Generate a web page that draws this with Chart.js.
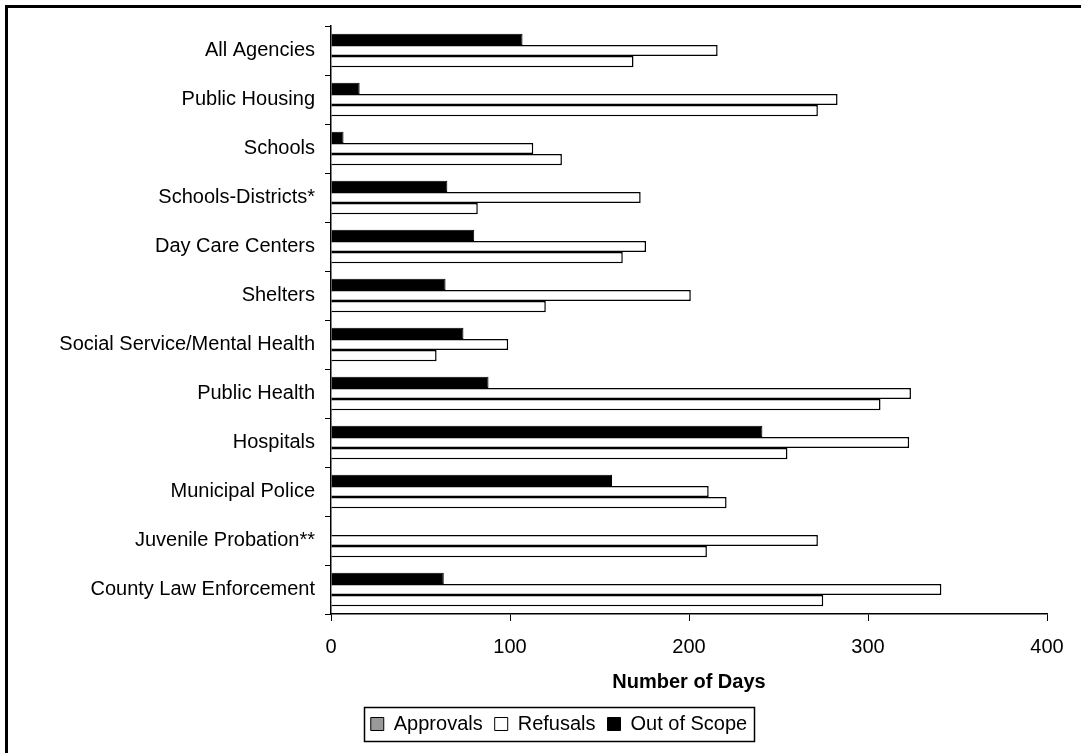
<!DOCTYPE html>
<html>
<head>
<meta charset="utf-8">
<script src="https://cdn.jsdelivr.net/npm/chart.js@4/dist/chart.umd.min.js"></script>
<style>
  html, body { margin: 0; padding: 0; background: #fff; }
  #wrap { width: 1081px; height: 753px; position: relative; }
</style>
</head>
<body>
<div id="wrap"><canvas id="chart"></canvas></div>
<script>
// categories, top to bottom
const agencies = [
    'All Agencies',
    'Public Housing',
    'Schools',
    'Schools-Districts*',
    'Day Care Centers',
    'Shelters',
    'Social Service/Mental Health',
    'Public Health',
    'Hospitals',
    'Municipal Police',
    'Juvenile Probation**',
    'County Law Enforcement'
];

// days
const outOfScope = [107, 16, 7, 65, 80, 64, 74, 88, 241, 157, 0, 63];
const refusals   = [216, 283, 113, 173, 176, 201, 99, 324, 323, 211, 272, 341];
const approvals  = [169, 272, 129, 82, 163, 120, 59, 307, 255, 221, 210, 275];

const xTicks = [0, 100, 200, 300, 400];

Chart.defaults.font.family = '"Liberation Sans", Arial, sans-serif';
Chart.defaults.font.size = 20;
Chart.defaults.color = '#000';

// legend swatch colours (approvals swatch is grey in the original)
const legendFill = { 'Approvals': '#999999', 'Refusals': '#ffffff', 'Out of Scope': '#000000' };

const framePlugin = {
    id: 'frame',
    afterLayout(chart) {
        // the legend in the original sits a bit right of page centre
        const lg = chart.legend;
        const tops = lg.legendHitBoxes.map(b => b.top);
        lg.left = 71;
        lg.adjustHitBoxes();
        // adjustHitBoxes adds the offset to top again, put it back
        lg.legendHitBoxes.forEach((b, i) => { b.top = tops[i]; });
    },
    beforeDraw(chart) {
        const ctx = chart.ctx;
        ctx.save();
        ctx.fillStyle = '#fff';
        ctx.fillRect(0, 0, chart.width, chart.height);
        ctx.strokeStyle = '#000';
        ctx.lineWidth = 3;
        ctx.beginPath();
        ctx.moveTo(6.5, chart.height);
        ctx.lineTo(6.5, 6.5);
        ctx.lineTo(chart.width, 6.5);
        ctx.stroke();
        ctx.restore();
    },
    afterDraw(chart) {
        // box round the legend
        const boxes = chart.legend.legendHitBoxes;
        if (!boxes || !boxes.length) return;
        const left = Math.min(...boxes.map(b => b.left));
        const right = Math.max(...boxes.map(b => b.left + b.width));
        const mid = boxes[0].top + boxes[0].height / 2;
        const ctx = chart.ctx;
        ctx.save();
        ctx.strokeStyle = '#000';
        ctx.lineWidth = 1.5;
        ctx.strokeRect(Math.round(left - 7) + 0.5, Math.round(mid - 17) + 0.5,
            Math.round(right - left + 14), 34);
        ctx.restore();
    }
};

new Chart(document.getElementById('chart'), {
    type: 'bar',
    data: {
        labels: agencies,
        datasets: [
            {
                label: 'Out of Scope',
                data: outOfScope,
                backgroundColor: '#000',
                borderColor: '#000',
                borderWidth: 1
            },
            {
                label: 'Refusals',
                data: refusals,
                backgroundColor: '#fff',
                borderColor: '#000',
                borderWidth: 1.5
            },
            {
                label: 'Approvals',
                data: approvals,
                backgroundColor: '#fff',
                borderColor: '#000',
                borderWidth: 1.5
            }
        ]
    },
    options: {
        indexAxis: 'y',
        responsive: true,
        maintainAspectRatio: false,
        animation: false,
        layout: {
            padding: { top: 26, left: 10, right: 34, bottom: 9 }
        },
        datasets: {
            bar: {
                categoryPercentage: 0.68,
                barPercentage: 1.0,
                borderSkipped: 'start'
            }
        },
        scales: {
            x: {
                min: 0,
                max: 400,
                afterBuildTicks(scale) {
                    scale.ticks = xTicks.map(v => ({ value: v }));
                },
                grid: {
                    drawOnChartArea: false,
                    drawTicks: true,
                    tickLength: 7,
                    color: '#000'
                },
                border: { display: true, color: '#000', width: 1.5 },
                ticks: { padding: 14, color: '#000', font: { size: 20 } },
                title: {
                    display: true,
                    text: 'Number of Days',
                    color: '#000',
                    font: { size: 20, weight: 'bold' },
                    padding: { top: -3, bottom: 8 }
                }
            },
            y: {
                afterFit(scale) {
                    scale.width = 321;
                },
                grid: {
                    drawOnChartArea: false,
                    drawTicks: true,
                    tickLength: 6,
                    offset: true,
                    color: '#000'
                },
                border: { display: true, color: '#000', width: 1.5 },
                ticks: { padding: 10, color: '#000', font: { size: 20 }, autoSkip: false }
            }
        },
        plugins: {
            legend: {
                position: 'bottom',
                labels: {
                    boxWidth: 13,
                    boxHeight: 13,
                    padding: 12,
                    color: '#000',
                    font: { size: 20 },
                    sort: (a, b) => b.datasetIndex - a.datasetIndex,
                    generateLabels(chart) {
                        const items = Chart.defaults.plugins.legend.labels.generateLabels(chart);
                        items.forEach(it => {
                            it.fillStyle = legendFill[it.text];
                            it.strokeStyle = '#000';
                            it.lineWidth = 1;
                        });
                        return items;
                    }
                }
            },
            tooltip: { enabled: false }
        }
    },
    plugins: [framePlugin]
});
</script>
</body>
</html>
